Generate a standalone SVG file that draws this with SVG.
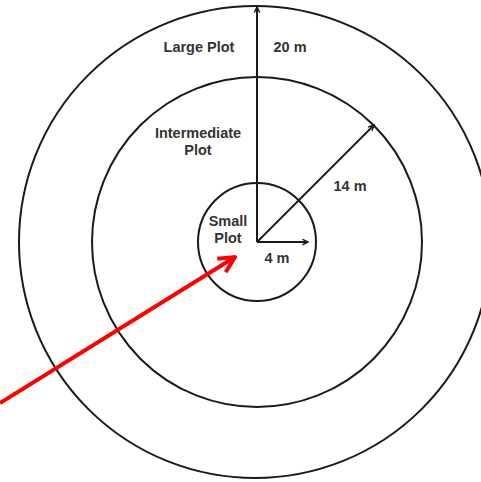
<svg xmlns="http://www.w3.org/2000/svg" width="481" height="482" viewBox="0 0 481 482">
<style>
.ring{fill:none;stroke:#1a1a1a;stroke-width:2}
.ax{stroke:#1a1a1a;stroke-width:2;fill:none}
.lbl{font-family:"Liberation Sans",Arial,sans-serif;font-weight:bold;font-size:14.5px;fill:#333;text-anchor:middle}
</style>
<defs>
<marker id="ah" viewBox="0 0 10 10" refX="9" refY="5" markerWidth="7" markerHeight="7" markerUnits="userSpaceOnUse" orient="auto">
<path d="M1,1 L9,5 L1,9" fill="none" stroke="#1a1a1a" stroke-width="2"/>
</marker>
<marker id="rh" viewBox="0 0 10 10" refX="9" refY="5" markerWidth="5" markerHeight="5" orient="auto">
<path d="M1,1 L9,5 L1,9" fill="none" stroke="#f00" stroke-width="2"/>
</marker>
</defs>
<rect width="481" height="482" fill="#fff"/>
<g id="large-plot">
<circle class="ring" cx="255" cy="242" r="236"/>
<text class="lbl" x="199" y="52">Large Plot</text>
</g>
<g id="intermediate-plot">
<circle class="ring" cx="257" cy="242" r="165"/>
<text class="lbl" x="198" y="138">Intermediate</text>
<text class="lbl" x="198" y="155">Plot</text>
</g>
<g id="small-plot">
<circle class="ring" cx="257" cy="242" r="59"/>
<text class="lbl" x="228" y="226">Small</text>
<text class="lbl" x="228" y="243">Plot</text>
</g>
<g id="connectors">
<line class="ax" x1="257" y1="242" x2="257" y2="7" marker-end="url(#ah)"/>
<line class="ax" x1="257" y1="242" x2="374" y2="125" marker-end="url(#ah)"/>
<line class="ax" x1="257" y1="242" x2="308" y2="242" marker-end="url(#ah)"/>
<line x1="0" y1="403" x2="235" y2="257" stroke="#f00" stroke-width="4" marker-end="url(#rh)"/>
</g>
<g id="labels">
<text class="lbl" x="290" y="52">20 m</text>
<text class="lbl" x="350" y="191">14 m</text>
<text class="lbl" x="277" y="263">4 m</text>
</g>
</svg>
